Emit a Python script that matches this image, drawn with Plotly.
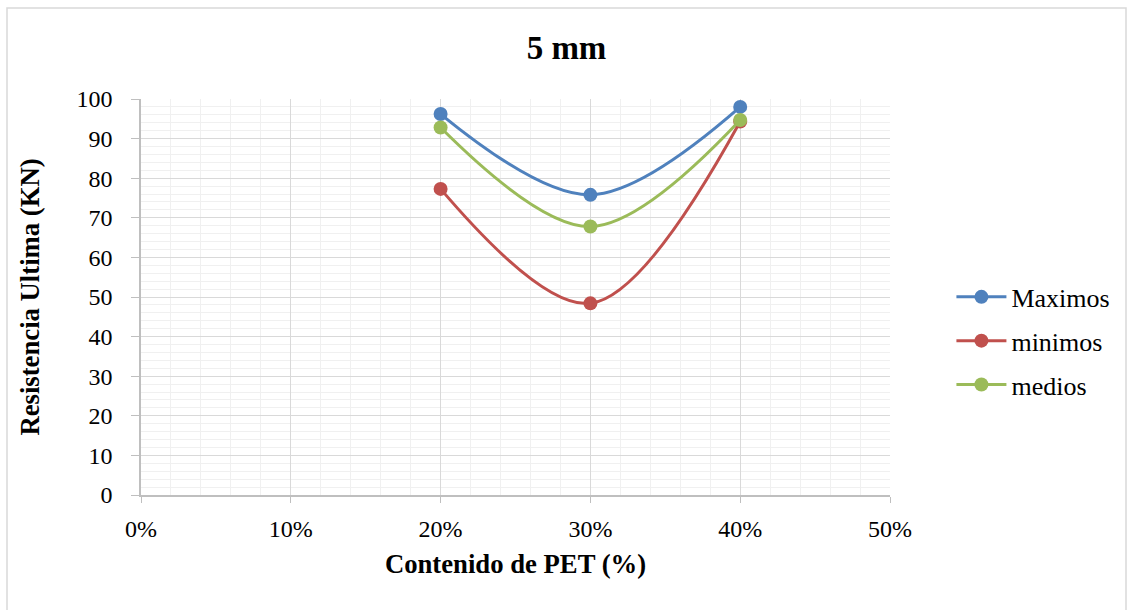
import plotly.graph_objects as go

# PET content (fraction) and ultimate strength per series
pet_content = [0.20, 0.30, 0.40]
maximos = [96.2, 75.8, 98.0]
minimos = [77.3, 48.4, 94.3]
medios = [92.8, 67.8, 94.7]

series = [
    ("Maximos", maximos, "#4F81BD"),
    ("minimos", minimos, "#C0504D"),
    ("medios", medios, "#9BBB59"),
]

FONT = "Liberation Serif, Times New Roman, serif"

fig = go.Figure()
for i, (name, vals, color) in enumerate(series):
    fig.add_trace(go.Scatter(
        x=pet_content, y=vals, name=name, mode="lines+markers",
        line=dict(color=color, width=3, shape="spline", smoothing=1.0),
        marker=dict(color=color, size=14),
        legendgroup=f"g{i}",
    ))

W, H = 1133, 610
L, R, T, B = 141, 243, 99, 115

fig.update_layout(
    width=W, height=H,
    margin=dict(l=L, r=R, t=T, b=B),
    paper_bgcolor="white", plot_bgcolor="white",
    font=dict(family=FONT, color="black", size=24),
    title=dict(text="<b>5 mm</b>", x=0.5, xref="container", xanchor="center",
               y=1 - 47 / H, yref="container", yanchor="middle",
               font=dict(size=33, family=FONT)),
    legend=dict(x=1.082, y=0.389, xanchor="left", yanchor="middle",
                font=dict(size=26, family=FONT), traceorder="grouped",
                tracegroupgap=7, itemwidth=50, bgcolor="rgba(0,0,0,0)"),
    showlegend=True,
)

fig.update_xaxes(
    range=[0, 0.5], dtick=0.1, tickformat=".0%",
    showgrid=True, gridcolor="#d9d9d9", gridwidth=1,
    minor=dict(dtick=0.02, showgrid=True, gridcolor="#f0f0f0", gridwidth=1),
    showline=True, linecolor="#bfbfbf", linewidth=1.5,
    ticks="outside", ticklen=6, tickcolor="#bfbfbf", ticklabelstandoff=5,
    zeroline=False, tickfont=dict(size=24, family=FONT),
    title=dict(text="<b>Contenido de PET (%)</b>", standoff=14,
               font=dict(size=26.7, family=FONT)),
)
fig.update_yaxes(
    range=[0, 100], dtick=10,
    showgrid=True, gridcolor="#d9d9d9", gridwidth=1,
    minor=dict(dtick=2, showgrid=True, gridcolor="#f0f0f0", gridwidth=1),
    showline=True, linecolor="#bfbfbf", linewidth=1.5,
    ticks="outside", ticklen=8, tickcolor="#bfbfbf", ticklabelstandoff=14,
    zeroline=False, tickfont=dict(size=24, family=FONT),
    title=dict(text="<b>Resistencia Ultima (KN)</b>", standoff=29,
               font=dict(size=26.7, family=FONT)),
)

# light frame around the chart area
pw, ph = W - L - R, H - T - B
fig.add_shape(
    type="rect", xref="paper", yref="paper", layer="below",
    x0=(7 - L) / pw, x1=(1126 - L) / pw,
    y0=-(H + 20 - (T + ph)) / ph, y1=1 + (T - 8) / ph,
    line=dict(color="#d9d9d9", width=1.5), fillcolor="rgba(0,0,0,0)",
)

fig.write_html("out.html")
